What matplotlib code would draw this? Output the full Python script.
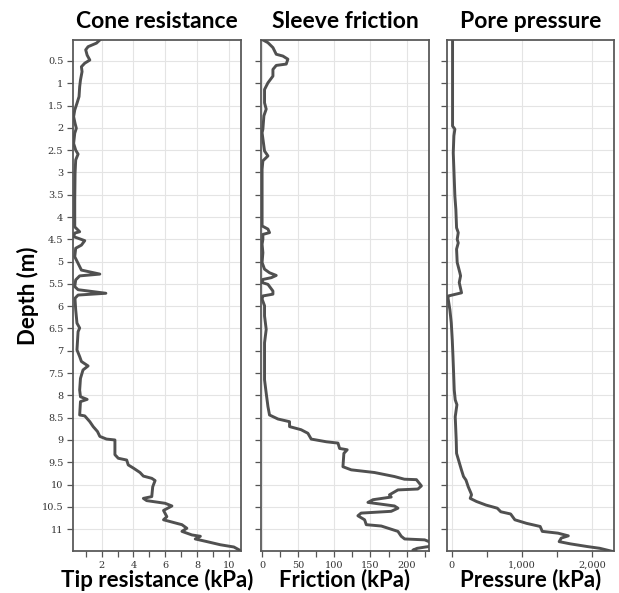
import matplotlib
matplotlib.use("Agg")
import matplotlib.pyplot as plt
from matplotlib.ticker import MultipleLocator, FuncFormatter

# depth (m) and readings
cone_depth = [0.03, 0.10, 0.18, 0.25, 0.37, 0.48, 0.55, 0.63, 0.74, 0.93, 1.08, 1.30, 1.45, 1.60, 1.75,
              1.90, 2.01, 2.12, 2.35, 2.50, 2.59, 2.72, 3.02, 3.62, 4.22, 4.33, 4.36, 4.44, 4.53, 4.63,
              4.70, 4.89, 5.04, 5.19, 5.28, 5.32, 5.41, 5.56, 5.63, 5.71, 5.75, 5.82, 5.86, 6.08, 6.38,
              6.49, 6.57, 6.98, 7.13, 7.24, 7.34, 7.43, 7.62, 7.88, 8.03, 8.09, 8.14, 8.44, 8.46, 8.59,
              8.70, 8.81, 8.92, 8.98, 9.00, 9.33, 9.41, 9.45, 9.56, 9.63, 9.73, 9.81, 9.86, 9.91, 10.05,
              10.27, 10.31, 10.36, 10.42, 10.48, 10.58, 10.72, 10.79, 10.87, 10.90, 10.98, 11.05, 11.13,
              11.16, 11.22, 11.28, 11.35, 11.40, 11.49]
cone_tip = [1.88, 1.67, 1.14, 0.99, 1.08, 1.25, 0.93, 0.72, 0.76, 0.66, 0.61, 0.57, 0.44, 0.30, 0.23,
            0.32, 0.40, 0.30, 0.23, 0.36, 0.51, 0.36, 0.32, 0.30, 0.30, 0.61, 0.30, 0.23, 0.93, 0.72,
            0.36, 0.30, 0.51, 0.72, 1.88, 0.61, 0.36, 0.30, 0.51, 2.26, 0.51, 0.32, 0.32, 0.36, 0.44,
            0.61, 0.51, 0.44, 0.61, 0.72, 1.14, 0.82, 0.66, 0.61, 0.66, 1.08, 0.66, 0.61, 0.93, 1.25,
            1.46, 1.73, 1.88, 2.30, 2.83, 2.83, 3.04, 3.57, 3.67, 3.99, 4.41, 4.62, 5.15, 5.36, 5.21,
            5.15, 4.62, 4.83, 5.99, 6.42, 5.89, 6.10, 5.89, 6.73, 7.05, 7.36, 7.05, 7.68,
            8.21, 7.89, 8.63, 9.47, 10.32, 10.78]

fric_depth = [0.03, 0.09, 0.20, 0.35, 0.39, 0.46, 0.57, 0.60, 0.69, 0.84, 0.99, 1.14, 1.44, 1.58, 1.73,
              2.03, 2.11, 2.52, 2.63, 2.74, 2.93, 3.15, 3.45, 4.20, 4.27, 4.35, 4.39, 4.50, 4.61, 4.80,
              5.02, 5.17, 5.25, 5.31, 5.36, 5.40, 5.47, 5.51, 5.66, 5.73, 5.77, 5.84, 5.99, 6.22, 6.52,
              6.82, 7.27, 7.65, 7.95, 8.25, 8.44, 8.53, 8.59, 8.70, 8.77, 8.85, 8.98, 9.04, 9.07, 9.19,
              9.22, 9.30, 9.60, 9.67, 9.73, 9.82, 9.88, 9.89, 10.03, 10.10, 10.12, 10.23, 10.28, 10.34,
              10.40, 10.48, 10.53, 10.60, 10.64, 10.70, 10.79, 10.90, 10.93, 11.05, 11.16, 11.22, 11.24,
              11.30, 11.36, 11.40, 11.43, 11.47, 11.49]
fric_val = [1.3, 8.1, 15, 19.6, 28.8, 35.7, 33.4, 19.6, 15, 15, 8.1, 3.4, 3.4, 5.7, 2.5,
            1.1, 0, 3.4, 8.1, 1.1, 0, 0, 0, 0, 8.1, 10.3, 1.1, 1.1, 0, 1.1,
            0, 3.4, 10.3, 19.6, 12.8, 1.1, 0, 8.1, 15, 15, 1.1, 0, 3.4, 3.4, 5.7,
            3.4, 3.4, 3.4, 5.7, 8.1, 10.3, 22, 38, 38, 54, 63.4, 68, 88.8, 105, 107.3,
            117.8, 113.2, 111.9, 123.4, 155.6, 183.2, 196.9, 213.6, 220.5, 215.6, 188, 176.3, 178.7, 153.4,
            146.5, 183.2, 188, 178.7, 137, 132.6, 141.9, 144.2, 165, 188, 192.6, 197.3, 225,
            234, 244, 226.4, 214.6, 208.7, 212.6]

pore_depth = [0.03, 1.96, 2.03, 2.18, 2.56, 2.93, 3.53, 3.83, 4.24, 4.35, 4.50, 4.58, 4.72, 5.02, 5.25,
              5.32, 5.47, 5.70, 5.77, 5.82, 5.92, 6.08, 6.38, 6.76, 7.13, 7.50, 7.88, 8.10, 8.21, 8.48,
              9.00, 9.30, 9.45, 9.67, 9.82, 9.90, 10.05, 10.19, 10.23, 10.31, 10.38, 10.46, 10.53, 10.61,
              10.66, 10.79, 10.87, 10.94, 11.05, 11.09, 11.15, 11.20, 11.28, 11.33, 11.39, 11.43, 11.50]
pore_val = [14, 14, 47, 33, 24, 33, 47, 61, 71, 95, 80, 95, 71, 80, 118,
            128, 109, 142, -45, -50, -40, -24, -4, 10, 20, 29, 38, 52, 76, 52,
            66, 71, 99, 140, 170, 205, 237, 275, 284, 265, 355, 490, 650, 700,
            840, 900, 1067, 1260, 1290, 1514, 1660, 1560, 1530, 1690, 1930, 2110, 2290]

titles = ["Cone resistance", "Sleeve friction", "Pore pressure"]
xlabels = ["Tip resistance (kPa)", "Friction (kPa)", "Pressure (kPa)"]

W, H = 619, 593
fig = plt.figure(figsize=(W / 100, H / 100), dpi=100)

boxes = [(73, 241), (261, 429), (447, 614)]
top, bottom = 40, 551
axes = []
for l, r in boxes:
    axes.append(fig.add_axes([l / W, 1 - bottom / H, (r - l) / W, (bottom - top) / H]))

series = [(cone_tip, cone_depth), (fric_val, fric_depth), (pore_val, pore_depth)]
xlims = [(0.19, 10.77), (-1.5, 231), (-65, 2310)]
majors = [2, 50, 1000]
minors = [1, 25, 500]
fmts = [lambda v, p: "%g" % v, lambda v, p: "%g" % v, lambda v, p: "{:,.0f}".format(v)]

line_col = "#505050"
head_font = dict(family="Lato", weight="bold", size=16.5)
label_font = dict(family="Lato", weight="bold", size=16)

for i, ax in enumerate(axes):
    x, y = series[i]
    ax.plot(x, y, color=line_col, lw=2.1, solid_joinstyle="round", zorder=3)
    ax.set_xlim(*xlims[i])
    ax.set_ylim(11.49, 0.03)
    ax.yaxis.set_major_locator(MultipleLocator(0.5))
    ax.xaxis.set_major_locator(MultipleLocator(majors[i]))
    ax.xaxis.set_minor_locator(MultipleLocator(minors[i]))
    ax.xaxis.set_major_formatter(FuncFormatter(fmts[i]))
    ax.grid(True, which="major", color="#e4e4e4", lw=0.8, zorder=0)
    for s in ax.spines.values():
        s.set_color("#5a5a5a")
        s.set_linewidth(1.3)
    ax.tick_params(axis="both", which="both", length=4, width=0.9, color="#555555",
                   labelcolor="#333333", pad=3, labelsize=7)
    if i == 0:
        ax.yaxis.set_major_formatter(FuncFormatter(lambda v, p: "%g" % v))
        ax.set_ylabel("Depth (m)", va="center", **label_font)
        ax.yaxis.set_label_coords(-(73 - 28) / (241 - 73), 0.5)
    else:
        ax.tick_params(axis="y", labelleft=False)
    ax.set_title(titles[i], pad=9, **head_font)
    ax.set_xlabel(xlabels[i], va="center", **label_font)
    ax.xaxis.set_label_coords(0.5, -(580 - bottom) / (bottom - top))
    for lab in ax.get_xticklabels() + ax.get_yticklabels():
        lab.set_fontfamily("DejaVu Serif")

fig.savefig("out.png", dpi=100)
